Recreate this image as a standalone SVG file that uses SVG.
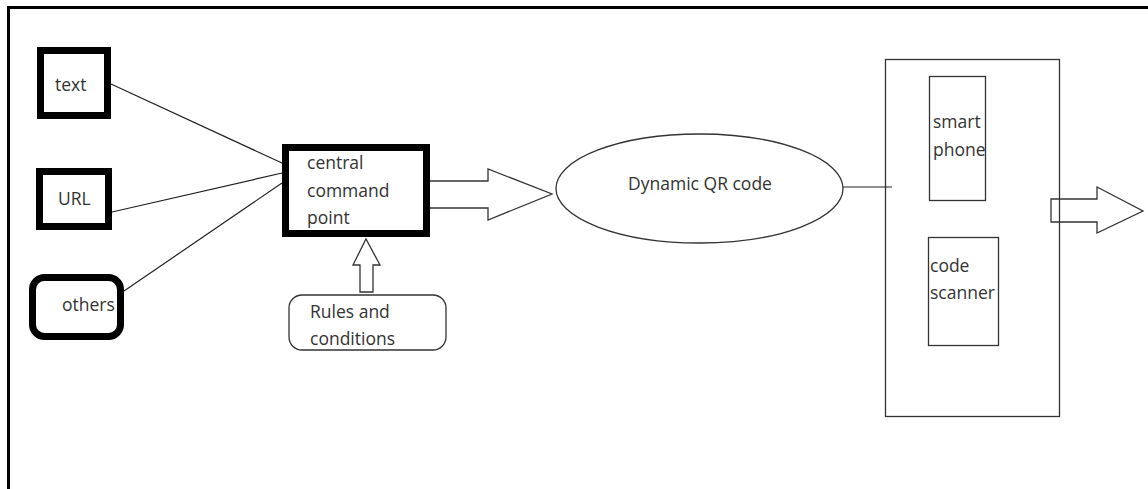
<svg xmlns="http://www.w3.org/2000/svg" width="1148" height="489" viewBox="0 0 1148 489">
<style>
text{font-family:"Open Sans","Noto Sans",sans-serif;font-size:17.5px;fill:#333}
.thick{fill:#fff;stroke:#000;stroke-width:7}
.thin{fill:#fff;stroke:#333;stroke-width:1.3}
.open{fill:none;stroke:#333;stroke-width:1.3}
.ln{fill:none;stroke:#222;stroke-width:1.2}
</style>
<rect width="1148" height="489" fill="#fff"/>
<g id="frame"><path d="M8.5 489 V7.5 H1148" fill="none" stroke="#000" stroke-width="3"/></g>
<g id="n-device"><rect class="open" x="885.5" y="59.5" width="174" height="357"/></g>
<g id="connectors">
<line class="ln" x1="111" y1="84" x2="282" y2="163"/>
<line class="ln" x1="112" y1="212" x2="291" y2="171"/>
<line class="ln" x1="124" y1="291" x2="282" y2="183"/>
<path class="thin" d="M430 181 H488 V169 L552 194 L488 220 V208 H430"/>
<path class="thin" d="M360 292 V265 H353 L366 239 L380 265 H373 V292 Z"/>
<line class="ln" x1="843" y1="187" x2="892" y2="187"/>
<path class="open" d="M1051 199 H1097 V187 L1143 211 L1097 233 V222 H1051 Z"/>
</g>
<g id="n-text"><rect class="thick" x="40.5" y="50.5" width="67" height="65"/><text x="55" y="91">text</text></g>
<g id="n-url"><rect class="thick" x="39.5" y="171.5" width="69" height="55"/><text x="58" y="205">URL</text></g>
<g id="n-others"><rect class="thick" x="32.5" y="277.5" width="88" height="59" rx="12"/><text x="62" y="311">others</text></g>
<g id="n-central"><rect class="thick" x="285.5" y="147.5" width="141" height="86"/><text x="307" y="169">central</text><text x="307" y="197">command</text><text x="307" y="224">point</text></g>
<g id="n-rules"><rect class="thin" x="289" y="295" width="157" height="55" rx="13"/><text x="310" y="318">Rules and</text><text x="310" y="345">conditions</text></g>
<g id="n-qr"><ellipse class="thin" cx="699.5" cy="188.5" rx="143.5" ry="54.5"/><text x="700" y="190" text-anchor="middle">Dynamic QR code</text></g>
<g id="n-phone"><rect class="thin" x="929.5" y="76.5" width="56" height="124"/><text x="933" y="128">smart</text><text x="933" y="156">phone</text></g>
<g id="n-scanner"><rect class="thin" x="928.5" y="237.5" width="70" height="108"/><text x="930" y="272">code</text><text x="930" y="299">scanner</text></g>
</svg>
